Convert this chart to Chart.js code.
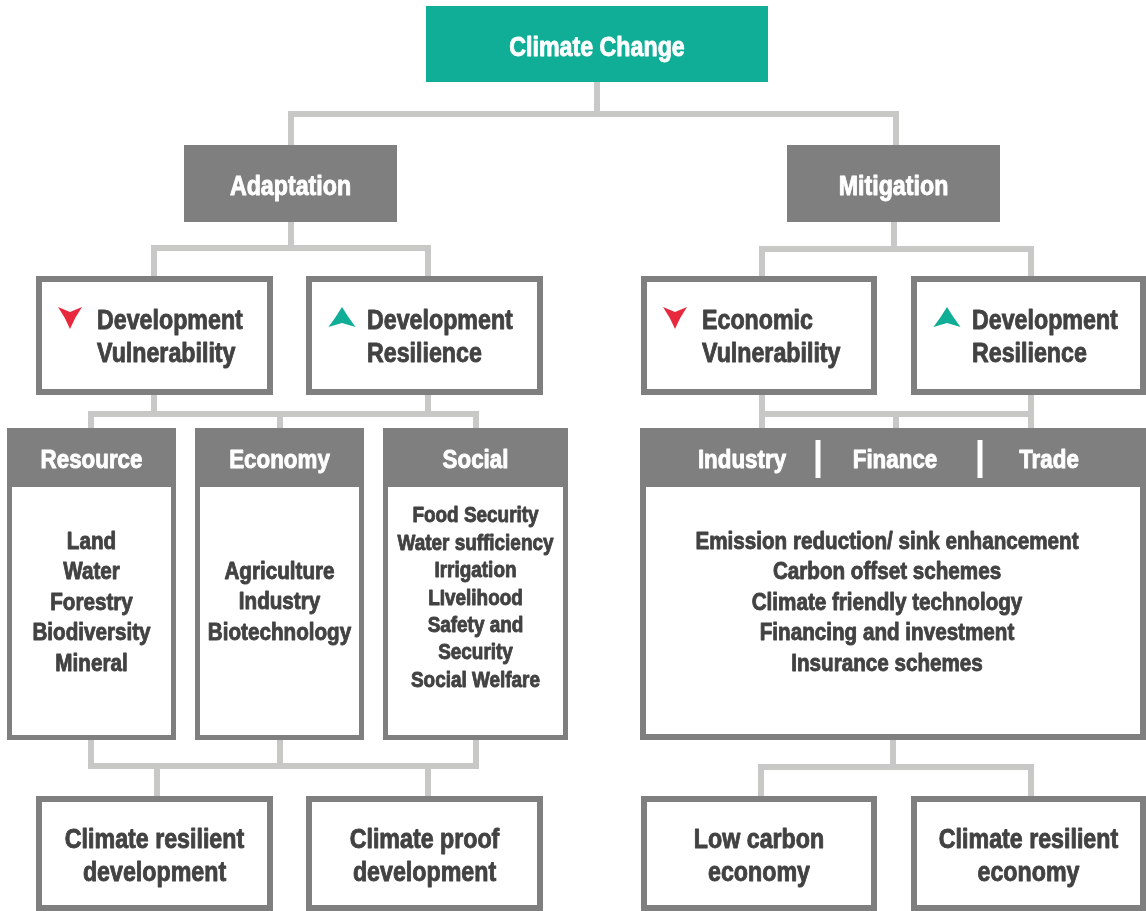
<!DOCTYPE html>
<html>
<head>
<meta charset="utf-8">
<script src="https://cdn.jsdelivr.net/npm/chart.js@4"></script>
<style>
  html, body { margin: 0; padding: 0; background: #ffffff; }
  #wrap { width: 1146px; height: 911px; }
</style>
</head>
<body>
<div id="wrap"><canvas id="diagram" width="1146" height="911"></canvas></div>
<script>
// Diagram content
const rootLabel = ['Climate Change'];
const approaches = ['Adaptation', 'Mitigation'];
const impactLabels = [
    ['Development', 'Vulnerability'],
    ['Development', 'Resilience'],
    ['Economic', 'Vulnerability'],
    ['Development', 'Resilience']
];
const impactTrend = ['down', 'up', 'down', 'up'];
const adaptationSectors = ['Resource', 'Economy', 'Social'];
const adaptationMeasures = [
    ['Land', 'Water', 'Forestry', 'Biodiversity', 'Mineral'],
    ['Agriculture', 'Industry', 'Biotechnology'],
    ['Food Security', 'Water sufficiency', 'Irrigation', 'LIvelihood', 'Safety and', 'Security', 'Social Welfare']
];
const mitigationSectors = ['Industry', 'Finance', 'Trade'];
const mitigationMeasures = [
    'Emission reduction/ sink enhancement',
    'Carbon offset schemes',
    'Climate friendly technology',
    'Financing and investment',
    'Insurance schemes'
];
const outcomeLabels = [
    ['Climate resilient', 'development'],
    ['Climate proof', 'development'],
    ['Low carbon', 'economy'],
    ['Climate resilient', 'economy']
];

// Layout, in axis units (x 0..1146, y 0..911 downwards)
const rootBox = [426, 6, 768, 82];
const approachBoxes = [[184, 145, 397, 222], [787, 145, 1000, 222]];
const impactBoxes = [[36, 276, 273, 395], [306, 276, 543, 395], [641, 276, 877, 395], [911, 276, 1146, 395]];
const sectorBoxes = [[7, 428, 176, 740], [195, 428, 364, 740], [383, 428, 568, 740]];
const mitigationBox = [640, 428, 1146, 740];
const mitigationHeaderX = [742, 895, 1049];
const mitigationDividers = [818, 980];
const outcomeBoxes = [[36, 796, 273, 911], [306, 796, 543, 911], [641, 796, 877, 911], [911, 796, 1146, 911]];
const connectors = [
    [[597, 82], [597, 114]],
    [[291, 145], [291, 114], [896, 114], [896, 145]],
    [[291, 222], [291, 248]],
    [[154, 276], [154, 248], [428, 248], [428, 276]],
    [[894, 222], [894, 249]],
    [[762, 276], [762, 249], [1031, 249], [1031, 276]],
    [[154, 395], [154, 414]],
    [[428, 395], [428, 414]],
    [[91, 428], [91, 414], [476, 414], [476, 428]],
    [[280, 414], [280, 428]],
    [[762, 395], [762, 428]],
    [[1031, 395], [1031, 428]],
    [[762, 414], [1031, 414]],
    [[896, 414], [896, 428]],
    [[91, 740], [91, 766], [476, 766], [476, 740]],
    [[280, 740], [280, 766]],
    [[157, 796], [157, 766]],
    [[428, 796], [428, 766]],
    [[893, 740], [893, 767]],
    [[761, 796], [761, 767], [1031, 767], [1031, 796]]
];

const TEAL = '#10ae97';
const GRAY = '#7f7f7f';
const TEXT = '#424242';
const RED = '#e8283c';
const SQUEEZE = 0.86;

function drawText(ctx, str, x, y, size, color, align) {
    // y is the vertical centre of the capitals
    ctx.save();
    ctx.translate(x, y + size * 0.716 / 2);
    ctx.scale(SQUEEZE, 1);
    ctx.font = 'bold ' + size + 'px "Liberation Sans", Arial, sans-serif';
    ctx.fillStyle = color;
    ctx.strokeStyle = color;
    ctx.lineWidth = 0.9;
    ctx.lineJoin = 'round';
    ctx.textAlign = align || 'center';
    ctx.textBaseline = 'alphabetic';
    ctx.fillText(str, 0, 0);
    ctx.strokeText(str, 0, 0);
    ctx.restore();
}

const diagramPlugin = {
    id: 'diagram',
    afterDatasetsDraw(chart) {
        const ctx = chart.ctx;
        const sx = chart.scales.x, sy = chart.scales.y;
        const X = v => sx.getPixelForValue(v);
        const Y = v => sy.getPixelForValue(v);

        function filled(b, color) {
            ctx.fillStyle = color;
            ctx.fillRect(X(b[0]), Y(b[1]), X(b[2]) - X(b[0]), Y(b[3]) - Y(b[1]));
        }
        function outlined(b, w) {
            const x0 = X(b[0]), y0 = Y(b[1]), x1 = X(b[2]), y1 = Y(b[3]);
            ctx.fillStyle = '#ffffff';
            ctx.fillRect(x0, y0, x1 - x0, y1 - y0);
            ctx.strokeStyle = GRAY;
            ctx.lineWidth = w;
            ctx.strokeRect(x0 + w / 2, y0 + w / 2, x1 - x0 - w, y1 - y0 - w);
        }
        function arrow(cx, top, dir, color) {
            ctx.fillStyle = color;
            ctx.beginPath();
            if (dir === 'down') {
                ctx.moveTo(X(cx - 12), Y(top));
                ctx.lineTo(X(cx), Y(top + 5));
                ctx.lineTo(X(cx + 12), Y(top));
                ctx.quadraticCurveTo(X(cx + 5), Y(top + 10), X(cx), Y(top + 22));
                ctx.quadraticCurveTo(X(cx - 5), Y(top + 10), X(cx - 12), Y(top));
            } else {
                ctx.moveTo(X(cx), Y(top));
                ctx.quadraticCurveTo(X(cx + 6), Y(top + 10), X(cx + 13.5), Y(top + 20));
                ctx.lineTo(X(cx), Y(top + 16));
                ctx.lineTo(X(cx - 13.5), Y(top + 20));
                ctx.quadraticCurveTo(X(cx - 6), Y(top + 10), X(cx), Y(top));
            }
            ctx.closePath();
            ctx.fill();
        }

        // root
        filled(rootBox, TEAL);
        drawText(ctx, rootLabel[0], X((rootBox[0] + rootBox[2]) / 2), Y(46), 27, '#ffffff');

        // adaptation / mitigation
        approaches.forEach((name, i) => {
            const b = approachBoxes[i];
            filled(b, GRAY);
            drawText(ctx, name, X((b[0] + b[2]) / 2), Y(185), 27, '#ffffff');
        });

        // vulnerability / resilience boxes
        impactLabels.forEach((lines, i) => {
            const b = impactBoxes[i];
            outlined(b, 6);
            const tx = b[0] + 61;
            const down = impactTrend[i] === 'down';
            arrow(b[0] + (down ? 34 : 36), 307, impactTrend[i], down ? RED : TEAL);
            drawText(ctx, lines[0], X(tx), Y(319), 27, TEXT, 'left');
            drawText(ctx, lines[1], X(tx), Y(352), 27, TEXT, 'left');
        });

        // adaptation sectors
        adaptationSectors.forEach((name, i) => {
            const b = sectorBoxes[i];
            outlined(b, 5);
            filled([b[0], b[1], b[2], b[1] + 59], GRAY);
            const cx = X((b[0] + b[2]) / 2);
            drawText(ctx, name, cx, Y(459), 26, '#ffffff');
            const items = adaptationMeasures[i];
            if (items.length > 5) {
                items.forEach((t, k) => drawText(ctx, t, cx, Y(514.5 + k * 27.4), 22, TEXT));
            } else {
                const start = items.length === 5 ? 540 : 570;
                items.forEach((t, k) => drawText(ctx, t, cx, Y(start + k * 30.5), 24, TEXT));
            }
        });

        // mitigation sectors
        outlined(mitigationBox, 6);
        filled([mitigationBox[0], mitigationBox[1], mitigationBox[2], mitigationBox[1] + 59], GRAY);
        mitigationSectors.forEach((name, i) => {
            drawText(ctx, name, X(mitigationHeaderX[i]), Y(459), 26, '#ffffff');
        });
        ctx.fillStyle = '#ffffff';
        mitigationDividers.forEach(d => {
            ctx.fillRect(X(d - 2.5), Y(440), X(d + 2.5) - X(d - 2.5), Y(478) - Y(440));
        });
        const mcx = X(887);
        mitigationMeasures.forEach((t, k) => drawText(ctx, t, mcx, Y(540 + k * 30.5), 24, TEXT));

        // outcomes
        outcomeLabels.forEach((lines, i) => {
            const b = outcomeBoxes[i];
            outlined(b, 6);
            const cx = X((b[0] + b[2]) / 2);
            drawText(ctx, lines[0], cx, Y(838.5), 27, TEXT);
            drawText(ctx, lines[1], cx, Y(871.5), 27, TEXT);
        });
    }
};

new Chart(document.getElementById('diagram').getContext('2d'), {
    type: 'scatter',
    data: {
        datasets: connectors.map(path => ({
            data: path.map(p => ({ x: p[0], y: p[1] })),
            showLine: true,
            borderColor: '#c8c8c6',
            borderWidth: 6,
            borderJoinStyle: 'miter',
            pointRadius: 0,
            pointHoverRadius: 0,
            clip: false
        }))
    },
    options: {
        responsive: false,
        animation: false,
        events: [],
        layout: { padding: 0 },
        scales: {
            x: { type: 'linear', min: 0, max: 1146, display: false },
            y: { type: 'linear', min: 0, max: 911, reverse: true, display: false }
        },
        plugins: {
            legend: { display: false },
            tooltip: { enabled: false }
        }
    },
    plugins: [diagramPlugin]
});
</script>
</body>
</html>
